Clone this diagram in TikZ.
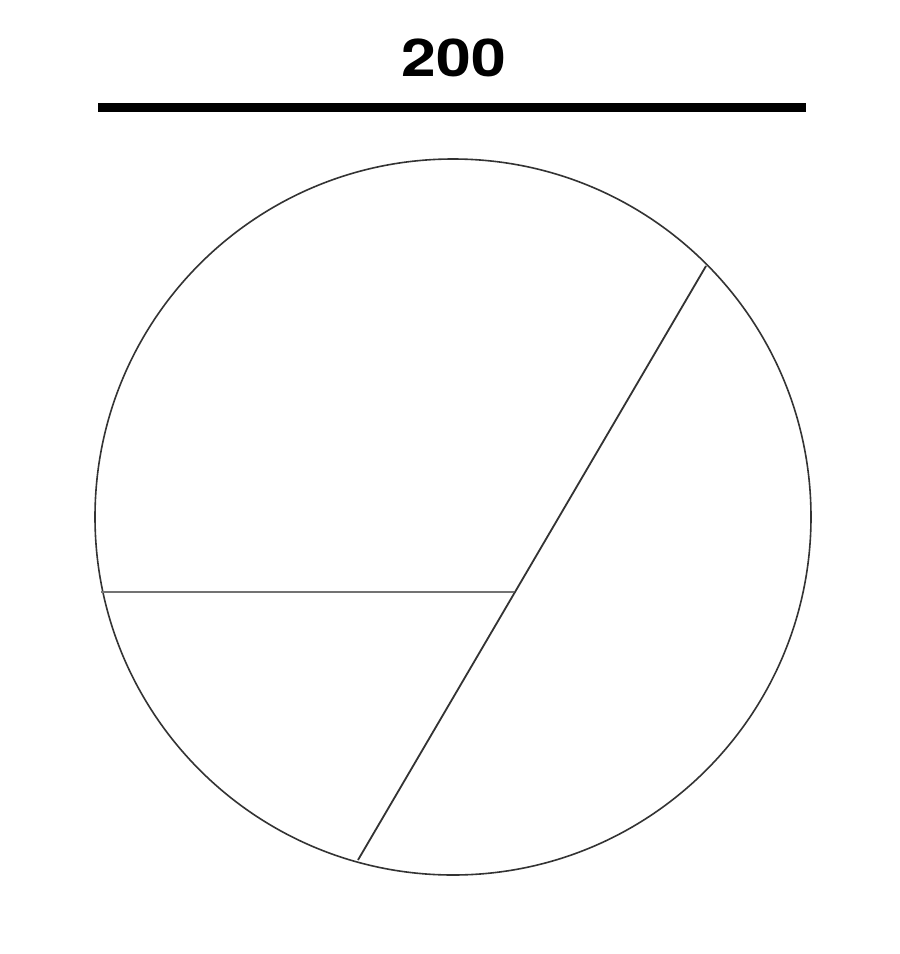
\documentclass[tikz,border=0pt]{standalone}
\usepackage{fontspec}
\setmainfont{TeX Gyre Heros}
\begin{document}
\begin{tikzpicture}[x=1pt,y=-1pt,
  outline/.style={draw=black!80,line width=1.6pt},
  chordline/.style={draw=black!80,line width=1.8pt},
  radline/.style={draw=black!55,line width=2.2pt},
  dimbar/.style={draw=black,line width=9pt},
  dimlabel/.style={font=\fontsize{52}{56}\selectfont\bfseries,inner sep=0pt,xscale=1.2}]
\useasboundingbox[fill=white] (0,0) rectangle (900,954);
\coordinate (c) at (453,517);
\node[dimlabel] (lbl) at (454,58) {200};
\coordinate (b1) at (98,107);
\coordinate (b2) at (806,107);
\draw[dimbar] (b1) -- (b2);
\draw[outline] (c) circle[radius=358];
\coordinate (p1) at (706,266);
\coordinate (p2) at (358,860);
\coordinate (p3) at (101,592);
\coordinate (m) at (514,592);
\draw[chordline] (p1) -- (p2);
\draw[radline] (p3) -- (m);
\end{tikzpicture}
\end{document}
